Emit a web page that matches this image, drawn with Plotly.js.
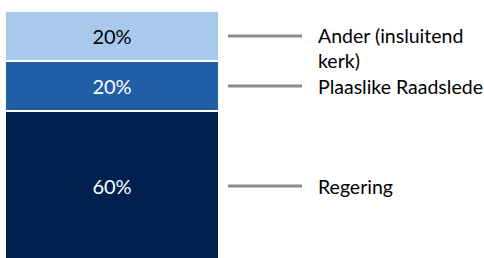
<!DOCTYPE html>
<html>
<head>
<meta charset="utf-8">
<script src="https://cdn.plot.ly/plotly-3.0.1.min.js"></script>
<style>html,body{margin:0;padding:0;background:#fff;}#chart{width:484px;height:258px;}</style>
</head>
<body>
<div id="chart"></div>
<script>
const categories = ["Regering", "Plaaslike Raadslede", "Ander (insluitend<br>kerk)"];
const values = [60, 20, 20];
const colors = ["#00204f", "#215ea8", "#a8c8ec"];
const textColors = ["#ffffff", "#ffffff", "#000000"];

const FONT = "Lato, 'Open Sans', sans-serif";

const traces = categories.map((c, i) => ({
  type: "bar",
  x: [0],
  y: [values[i]],
  name: c,
  width: 1,
  marker: {color: colors[i], line: {color: "#ffffff", width: 1.5}},
  text: [values[i] + "%"],
  textposition: "inside",
  insidetextanchor: "middle",
  textfont: {family: FONT, size: 20, color: textColors[i]},
  hoverinfo: "skip"
}));

// midpoints of each segment for leader lines
const mids = [];
let cum = 0;
values.forEach(v => { mids.push(cum + v / 2); cum += v; });

const shapes = mids.map((m, i) => ({
  type: "line", xref: "paper", yref: "y",
  x0: 1.042, x1: 1.388, y0: m, y1: m,
  line: {color: "#8c8c8c", width: 3}
}));

const annotations = categories.map((c, i) => ({
  xref: "paper", yref: "y", x: 1.452, y: mids[i],
  text: c, showarrow: false, xanchor: "left",
  yanchor: i === 2 ? "top" : "middle",
  yshift: i === 2 ? 14 : 0,
  align: "left",
  font: {family: FONT, size: 19.5, color: "#000000"}
}));

const layout = {
  width: 484, height: 258,
  margin: {l: 5, r: 265, t: 11, b: 0},
  barmode: "stack",
  showlegend: false,
  paper_bgcolor: "#ffffff",
  plot_bgcolor: "#ffffff",
  xaxis: {visible: false, range: [-0.5, 0.5], fixedrange: true},
  yaxis: {visible: false, range: [1.2, 100], fixedrange: true},
  shapes: shapes,
  annotations: annotations
};

Plotly.newPlot("chart", traces, layout, {displayModeBar: false, staticPlot: true});
</script>
</body>
</html>
